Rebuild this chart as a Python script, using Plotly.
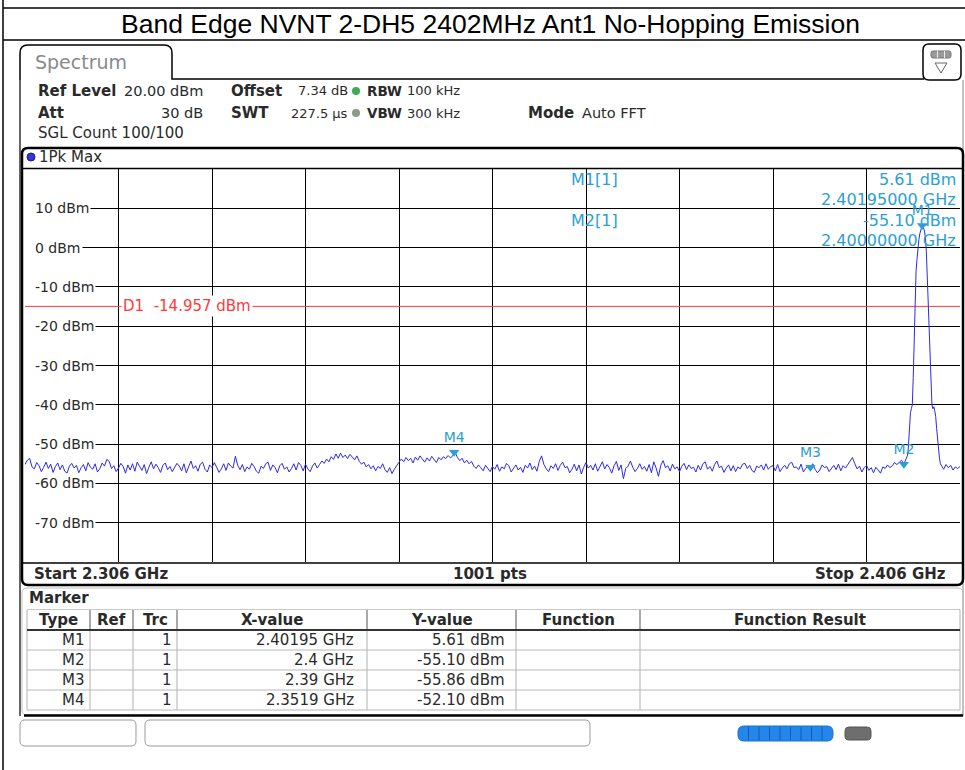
import plotly.graph_objects as go

W, H = 965, 770

START_GHZ = 2.306
STOP_GHZ = 2.406
NOISE_STEP_GHZ = 0.00025  # noise floor read every 0.25 MHz

# trace level, 2.30600 GHz ... 2.39975 GHz
noise_dbm = [
    -55.2, -54.1, -53.6, -55.8, -56.3, -54.7, -55.5, -57.0, -55.9, -54.6,
    -56.2, -55.1, -57.2, -55.7, -54.8, -56.5, -55.3, -56.9, -57.4, -55.6,
    -54.9, -56.1, -55.4, -57.3, -56.0, -55.2, -56.8, -54.7, -55.9, -56.4,
    -55.0, -57.1, -56.3, -54.8, -55.6, -53.9, -54.4, -56.2, -55.5, -57.0,
    -56.1, -54.9, -55.7, -57.4, -55.3, -56.6, -55.0, -56.9, -54.6, -55.8,
    -56.7, -55.2, -57.5, -55.9, -54.5, -56.3, -55.1, -56.0, -57.2, -55.4,
    -54.8, -56.5, -55.7, -57.0, -56.1, -54.9, -55.6, -56.8, -55.0, -57.3,
    -55.8, -54.3, -56.2, -55.5, -56.9, -55.1, -54.6, -56.4, -57.1, -55.3,
    -56.0, -54.7, -55.9, -57.2, -56.3, -55.0, -56.7, -54.8, -55.6, -56.1,
    -53.1, -55.4, -56.5, -55.2, -57.0, -55.8, -56.4, -54.9, -55.7, -56.9,
    -57.4, -55.6, -56.2, -55.0, -54.6, -56.7, -55.3, -56.0, -57.3, -55.5,
    -54.9, -56.4, -55.8, -57.1, -56.2, -55.0, -56.6, -54.7, -55.4, -56.8,
    -55.1, -56.3, -57.0, -55.6, -54.8, -56.1, -55.2, -54.3, -54.9, -53.8,
    -54.5, -53.2, -53.9, -52.5, -53.6, -52.3, -53.4, -52.8, -53.7, -52.6,
    -53.3, -54.0, -53.0, -54.4, -55.1, -54.6, -55.8, -55.2, -56.3, -55.5,
    -56.8, -55.7, -56.2, -55.0, -56.5, -57.2, -56.0, -57.5, -56.4, -55.3,
    -54.6, -53.8, -54.5, -53.4, -54.2, -53.6, -54.8, -53.3, -54.1, -53.0,
    -53.9, -54.6, -53.5, -54.3, -53.1, -53.8, -54.7, -53.4, -54.0, -53.2,
    -53.7, -52.9, -53.5, -53.0, -52.1, -53.4, -54.2, -53.6, -54.8, -54.1,
    -55.0, -54.4, -55.6, -56.2, -55.3, -56.0, -56.8, -55.4, -56.1, -57.0,
    -55.7, -56.4, -55.2, -56.9, -55.8, -56.3, -54.9, -55.5, -57.1, -56.0,
    -55.3, -56.6, -55.9, -57.2, -55.4, -56.1, -54.8, -56.5, -55.6, -56.9,
    -54.4, -53.0, -55.2, -56.3, -57.0, -55.5, -56.2, -55.0, -56.7, -55.4,
    -54.6, -56.0, -55.7, -57.3, -56.4, -55.1, -56.8, -55.3, -57.6, -55.9,
    -54.7, -56.1, -55.4, -56.6, -55.0, -56.9, -55.8, -54.5, -56.3, -55.2,
    -56.0, -57.4, -55.5, -54.4, -56.7, -55.3, -58.8, -56.2, -55.6, -54.3,
    -55.9, -57.0, -56.2, -55.0, -56.4, -55.7, -56.9, -55.2, -57.3, -54.5,
    -56.1, -58.2, -55.4, -54.2, -56.0, -55.5, -56.8, -55.1, -56.3, -55.8,
    -57.0, -55.6, -54.9, -56.5, -55.3, -56.2, -55.9, -57.1, -55.4, -56.6,
    -55.0, -54.5, -56.4, -55.7, -56.9, -55.2, -54.3, -56.0, -55.6, -57.2,
    -56.1, -55.3, -56.8, -55.5, -57.0, -55.8, -56.3, -55.1, -54.9, -56.2,
    -55.4, -56.7, -57.2, -55.6, -56.0, -55.3, -56.6, -55.0, -56.4, -55.7,
    -55.5, -56.8, -55.2, -57.0, -56.1, -55.4, -56.3, -55.0, -54.6, -56.0,
    -55.8, -56.5, -55.1, -57.1, -56.2, -55.5, -55.86, -55.0, -56.4, -57.3,
    -56.6, -55.3, -56.0, -55.7, -57.0, -56.2, -55.4, -56.5, -55.1, -56.8,
    -55.5, -56.1, -55.2, -54.6, -53.4, -55.0, -56.3, -55.6, -57.1, -56.0,
    -55.4, -56.7, -56.0, -57.3, -55.9, -56.6, -57.4, -55.8, -56.2, -55.3,
    -56.0, -55.5, -54.7, -55.2, -54.6, -54.1,
]

# carrier at 2402 MHz and the rest of the span
peak_freq_ghz = [
    2.4000, 2.4001, 2.4002, 2.4003, 2.4004, 2.4005, 2.4006, 2.4007, 2.4008, 2.4009,
    2.4010, 2.4011, 2.4012, 2.4013, 2.4014, 2.4015, 2.4016, 2.4017, 2.4018, 2.4019,
    2.40195, 2.4020, 2.4021, 2.4022, 2.4023, 2.4024, 2.4025, 2.4026, 2.4027, 2.4028,
    2.4029, 2.4030, 2.4031, 2.4032, 2.4033, 2.4034, 2.4035, 2.4036, 2.4037, 2.4038,
    2.4039, 2.4040, 2.40425, 2.4045, 2.40475, 2.4050, 2.40525, 2.4055, 2.40575, 2.4060,
]
peak_dbm = [
    -55.10, -54.5, -54.0, -53.5, -52.8, -50.0, -45.0, -42.0, -41.0, -40.0,
    -33.0, -22.0, -12.0, -6.0, -3.0, 0.0, 2.0, 3.5, 4.6, 5.3,
    5.61, 5.4, 5.0, 4.2, 2.5, -1.0, -8.0, -15.0, -22.0, -31.0,
    -37.0, -40.0, -41.0, -40.5, -41.5, -43.0, -46.0, -49.0, -51.5, -53.5,
    -55.0, -55.5, -56.4, -55.2, -56.0, -55.4, -56.6, -55.8, -56.2, -55.7,
]

marker_names = ["M1", "M2", "M3", "M4"]
marker_freq_ghz = [2.40195, 2.4, 2.39, 2.3519]
marker_dbm = [5.61, -55.10, -55.86, -52.10]
marker_ref = ["", "", "", ""]
marker_trc = ["1", "1", "1", "1"]
marker_x_text = ["2.40195 GHz", "2.4 GHz", "2.39 GHz", "2.3519 GHz"]
marker_y_text = ["5.61 dBm", "-55.10 dBm", "-55.86 dBm", "-52.10 dBm"]

level_ticks = [10, 0, -10, -20, -30, -40, -50, -60, -70]
D1_DBM = -14.957

FONT = "DejaVu Sans"
TXT = "#2a2a2a"
MK = "#2a9fd6"

noise_freq_ghz = [START_GHZ + i * NOISE_STEP_GHZ for i in range(len(noise_dbm))]
trace_freq = noise_freq_ghz + peak_freq_ghz
trace_dbm = noise_dbm + peak_dbm


def fx(x):
    return x / W


def fy(y):
    return 1 - y / H


def line(x0, y0, x1, y1, color="#000", width=1, layer="above"):
    return dict(type="line", xref="paper", yref="paper", x0=fx(x0), y0=fy(y0),
                x1=fx(x1), y1=fy(y1), line=dict(color=color, width=width), layer=layer)


def box(x0, y0, x1, y1, fill="white", layer="above"):
    return dict(type="rect", xref="paper", yref="paper", x0=fx(x0), y0=fy(y0),
                x1=fx(x1), y1=fy(y1), fillcolor=fill, line=dict(width=0), layer=layer)


def rbox(x0, y0, x1, y1, r, color="#000", width=1, fill="rgba(0,0,0,0)", layer="above"):
    p = lambda x, y: f"{fx(x):.5f},{fy(y):.5f}"
    path = (f"M {p(x0 + r, y0)} L {p(x1 - r, y0)} Q {p(x1, y0)} {p(x1, y0 + r)} "
            f"L {p(x1, y1 - r)} Q {p(x1, y1)} {p(x1 - r, y1)} L {p(x0 + r, y1)} "
            f"Q {p(x0, y1)} {p(x0, y1 - r)} L {p(x0, y0 + r)} Q {p(x0, y0)} {p(x0 + r, y0)} Z")
    return dict(type="path", xref="paper", yref="paper", path=path, fillcolor=fill,
                line=dict(color=color, width=width), layer=layer)


def text(x, y, s, size=15, color=TXT, anchor="left", family=FONT):
    return dict(x=fx(x), y=fy(y), xref="paper", yref="paper", text=s, showarrow=False,
                xanchor=anchor, yanchor="middle", font=dict(family=family, size=size, color=color))


fig = go.Figure()

fig.add_trace(go.Scatter(
    x=trace_freq, y=trace_dbm, mode="lines",
    line=dict(color="#2a2aec", width=1), hoverinfo="skip", showlegend=False,
))

fig.add_trace(go.Scatter(
    x=marker_freq_ghz, y=marker_dbm, mode="markers+text",
    text=marker_names, textposition="top center",
    textfont=dict(family=FONT, size=14, color=MK),
    marker=dict(symbol="triangle-down", size=9, color=MK),
    hoverinfo="skip", showlegend=False, cliponaxis=False,
))

shapes = []
annos = []

# page frame and title
shapes += [line(3, 0, 3, 770, width=1.5), line(3, 8, 965, 8, width=1.5),
           line(3, 40, 965, 40, width=1.5)]
annos.append(text(491, 24, "Band Edge NVNT 2-DH5 2402MHz Ant1 No-Hopping Emission",
                  size=26.5, color="#000", anchor="center", family="Liberation Sans"))

# spectrum window, tab and menu icon
tab = (f"M {fx(20)},{fy(80)} L {fx(20)},{fy(53)} Q {fx(20)},{fy(45)} {fx(28)},{fy(45)} "
       f"L {fx(164)},{fy(45)} Q {fx(172)},{fy(45)} {fx(172)},{fy(53)} L {fx(172)},{fy(79)} "
       f"L {fx(924)},{fy(79)}")
shapes.append(dict(type="path", xref="paper", yref="paper", path=tab,
                   line=dict(color="#000", width=1.5)))
shapes += [line(20, 80, 20, 716, width=1.2), line(963, 80, 963, 716, color="#888", width=1)]
annos.append(text(33, 62, "Spectrum", size=19, color="#8a8a8a"))
shapes.append(rbox(923, 44, 961, 80, 6, width=1.5))
shapes.append(rbox(931, 51, 951, 58, 2, color="#777", fill="#9a9a9a", width=1))
shapes += [line(937.5, 51, 937.5, 58, color="#eee"), line(944.5, 51, 944.5, 58, color="#eee")]
tri = f"M {fx(935)},{fy(63)} L {fx(947)},{fy(63)} L {fx(941)},{fy(73)} Z"
shapes.append(dict(type="path", xref="paper", yref="paper", path=tri,
                   line=dict(color="#666", width=1)))

# settings header
annos += [
    text(36, 91, "<b>Ref Level</b>"), text(122, 91, "20.00 dBm", size=14.5),
    text(229, 91, "<b>Offset</b>"), text(296, 91, "7.34 dB", size=13),
    text(365, 91, "<b>RBW</b>", size=13.5), text(405, 91, "100 kHz", size=13),
    text(36, 113, "<b>Att</b>"), text(205, 113, "30 dB", size=14.5, anchor="right"),
    text(229, 113, "<b>SWT</b>"), text(289, 113, "227.5 µs", size=13),
    text(365, 113, "<b>VBW</b>", size=13.5), text(405, 113, "300 kHz", size=13),
    text(526, 113, "<b>Mode</b>"), text(580, 113, "Auto FFT", size=14.5),
    text(36, 133, "SGL Count 100/100"),
]
shapes += [
    dict(type="circle", xref="paper", yref="paper", x0=fx(352), x1=fx(360), y0=fy(95), y1=fy(87),
         fillcolor="#3faa5a", line=dict(width=0)),
    dict(type="circle", xref="paper", yref="paper", x0=fx(352), x1=fx(360), y0=fy(117), y1=fy(109),
         fillcolor="#8c9a8c", line=dict(width=0)),
]

# graph panel
shapes.append(rbox(22, 148, 963, 585, 6, width=2.5))
shapes += [line(23, 168.5, 962, 168.5, width=1.5), line(23, 563, 962, 563, width=1.5)]
shapes.append(dict(type="circle", xref="paper", yref="paper", x0=fx(27), x1=fx(35),
                   y0=fy(161), y1=fy(153), fillcolor="#3434d8", line=dict(color="#1a1a90", width=1)))
annos.append(text(37, 157, "1Pk Max", size=15))
annos += [
    text(32, 574, "<b>Start 2.306 GHz</b>"),
    text(490, 574, "<b>1001 pts</b>", anchor="center"),
    text(948, 574, "<b>Stop 2.406 GHz</b>", anchor="right"),
]

# white area that hides the graticule behind the marker readout
shapes.append(box(567, 169, 960, 252, layer="between"))

# level labels on the graticule
for v in level_ticks:
    shapes.append(dict(type="rect", xref="paper", yref="y", x0=fx(25), x1=fx(36),
                       y0=v - 1.6, y1=v + 1.6, fillcolor="white", line=dict(width=0)))
    annos.append(dict(x=fx(33), y=v, xref="paper", yref="y", text=f"{v} dBm",
                      showarrow=False, xanchor="left", yanchor="middle", bgcolor="white",
                      borderpad=1, font=dict(family=FONT, size=14, color=TXT)))

# display line D1
shapes.append(dict(type="line", xref="x", yref="y", x0=START_GHZ, x1=STOP_GHZ,
                   y0=D1_DBM, y1=D1_DBM, line=dict(color="#ff3a3a", width=1), layer="between"))
annos.append(dict(x=fx(121), y=D1_DBM, xref="paper", yref="y", text=f"D1  {D1_DBM} dBm",
                  showarrow=False, xanchor="left", yanchor="middle", bgcolor="white",
                  borderpad=1, font=dict(family=FONT, size=15, color="#ff3a3a")))

# marker readout
annos += [
    text(569, 180, "M1[1]", size=16, color=MK),
    text(958, 180, f"{marker_dbm[0]:.2f} dBm", size=16, color=MK, anchor="right"),
    text(958, 200, f"{marker_freq_ghz[0]:.8f} GHz", size=16, color=MK, anchor="right"),
    text(569, 221, "M2[1]", size=16, color=MK),
    text(958, 221, f"{marker_dbm[1]:.2f} dBm", size=16, color=MK, anchor="right"),
    text(958, 241, f"{marker_freq_ghz[1]:.8f} GHz", size=16, color=MK, anchor="right"),
]

# marker table panel
annos.append(text(27, 598, "<b>Marker</b>"))
cols = [27, 90, 133, 177, 367, 516, 640, 960]
heads = ["Type", "Ref", "Trc", "X-value", "Y-value", "Function", "Function Result"]
for i, h in enumerate(heads):
    annos.append(text((cols[i] + cols[i + 1]) / 2, 620, f"<b>{h}</b>", anchor="center"))
    if 0 < i:
        shapes.append(line(cols[i], 610, cols[i], 630, color="#555"))
for c in cols[1:-1]:
    shapes.append(line(c, 630, c, 710, color="#b0b0b0"))
shapes += [line(27, 610, 27, 710, color="#b0b0b0"), line(960, 610, 960, 710, color="#b0b0b0"),
           line(27, 609.5, 960, 609.5, color="#c8c8c8"), line(27, 630, 960, 630, color="#333", width=2)]
for r in range(4):
    yc = 640 + 20 * r
    shapes.append(line(27, yc + 10, 960, yc + 10, color="#b8b8b8"))
    annos += [
        text(87, yc, marker_names[r], anchor="right"),
        text(130, yc, marker_ref[r], anchor="right"),
        text(174, yc, marker_trc[r], anchor="right"),
        text(356, yc, marker_x_text[r], anchor="right"),
        text(507, yc, marker_y_text[r], anchor="right"),
    ]
shapes.append(rbox(22, 588, 963, 715, 5, color="#c0c0c0", width=1))
shapes.append(line(24, 715.5, 963, 715.5, width=2.5))

# status bar
shapes += [rbox(20, 720, 136, 746, 5, color="#9a9a9a", width=1),
           rbox(145, 720, 590, 746, 5, color="#9a9a9a", width=1),
           rbox(738, 726, 833, 741, 6, color="#1a6fd0", fill="#2486ea", width=1)]
for k in range(1, 9):
    xs = 738 + k * 10.5
    shapes.append(line(xs, 727, xs, 740, color="#145ab0", width=1))
shapes.append(rbox(845, 727, 871, 740, 4, color="#555", fill="#6e6e6e", width=1))

fig.update_layout(
    width=W, height=H,
    margin=dict(l=0, r=0, t=0, b=0),
    paper_bgcolor="white", plot_bgcolor="white",
    shapes=shapes, annotations=annos,
    xaxis=dict(domain=[fx(25), fx(960)], range=[START_GHZ, STOP_GHZ], tick0=START_GHZ,
               dtick=0.01, showgrid=True, gridcolor="#000", gridwidth=1,
               showticklabels=False, zeroline=False, ticks=""),
    yaxis=dict(domain=[fy(562), fy(169)], range=[-80, 20], tick0=0, dtick=10,
               showgrid=True, gridcolor="#000", gridwidth=1,
               showticklabels=False, zeroline=False, ticks=""),
)

# drop the default page margin so the figure sits at the window's top-left corner
fig.write_html("out.html", config={"displayModeBar": False},
               post_script="document.body.style.margin='0';document.body.style.overflow='hidden';")
